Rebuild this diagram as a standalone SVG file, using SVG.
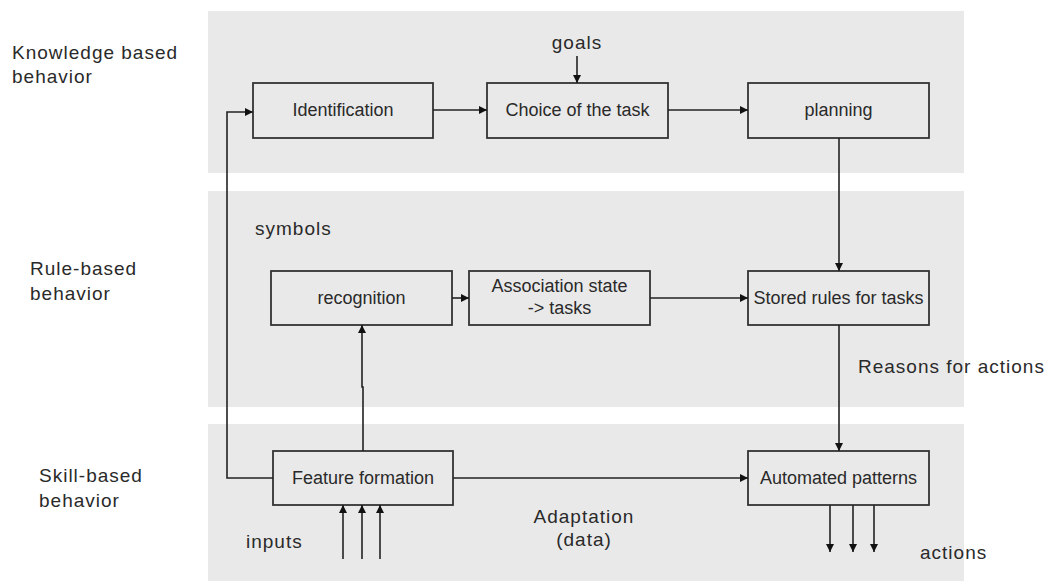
<svg xmlns="http://www.w3.org/2000/svg" width="1045" height="581" viewBox="0 0 1045 581">
  <style>
    .band { fill: #e9e9e9; }
    .box { fill: none; stroke: #333; stroke-width: 1.8; }
    .link { fill: none; stroke: #222; stroke-width: 1.6; }
    .lbl { font-family: "Liberation Sans", Arial, sans-serif; font-size: 19px; letter-spacing: 1px; fill: #2a2a2a; }
    .txt { font-family: "Liberation Sans", Arial, sans-serif; font-size: 18px; fill: #2a2a2a; text-anchor: middle; }
  </style>
  <defs>
    <marker id="arrow" viewBox="0 0 10 10" refX="10" refY="5" markerWidth="5.5" markerHeight="5" orient="auto" markerUnits="strokeWidth">
      <path d="M0,0 L10,5 L0,10 z" fill="#111"/>
    </marker>
  </defs>

  <rect width="1045" height="581" fill="#fff"/>

  <!-- behaviour levels -->
  <g id="levels">
    <rect class="band" x="208" y="11" width="756" height="162"/>
    <rect class="band" x="208" y="191" width="756" height="216"/>
    <rect class="band" x="208" y="424" width="756" height="157"/>
    <text class="lbl" x="12" y="59">Knowledge based</text>
    <text class="lbl" x="12" y="83">behavior</text>
    <text class="lbl" x="30" y="275">Rule-based</text>
    <text class="lbl" x="30" y="300">behavior</text>
    <text class="lbl" x="39" y="482">Skill-based</text>
    <text class="lbl" x="39" y="507">behavior</text>
  </g>

  <!-- free labels -->
  <g id="labels">
    <text class="lbl" x="577" y="49" text-anchor="middle">goals</text>
    <text class="lbl" x="255" y="235">symbols</text>
    <text class="lbl" x="858" y="373">Reasons for actions</text>
    <text class="lbl" x="584" y="523" text-anchor="middle">Adaptation</text>
    <text class="lbl" x="584" y="546" text-anchor="middle">(data)</text>
    <text class="lbl" x="246" y="548">inputs</text>
    <text class="lbl" x="920" y="559">actions</text>
  </g>

  <!-- nodes -->
  <g id="identification">
    <rect class="box" x="253" y="83" width="180" height="55"/>
    <text class="txt" x="343" y="116">Identification</text>
  </g>
  <g id="choice">
    <rect class="box" x="487" y="83" width="181" height="55"/>
    <text class="txt" x="577.5" y="116">Choice of the task</text>
  </g>
  <g id="planning">
    <rect class="box" x="748" y="83" width="181" height="55"/>
    <text class="txt" x="838.5" y="116">planning</text>
  </g>
  <g id="recognition">
    <rect class="box" x="271" y="271" width="181" height="54"/>
    <text class="txt" x="361.5" y="304">recognition</text>
  </g>
  <g id="association">
    <rect class="box" x="469" y="271" width="181" height="54"/>
    <text class="txt" x="559.5" y="292">Association state</text>
    <text class="txt" x="559.5" y="314">-&gt; tasks</text>
  </g>
  <g id="stored-rules">
    <rect class="box" x="748" y="271" width="181" height="54"/>
    <text class="txt" x="838.5" y="304">Stored rules for tasks</text>
  </g>
  <g id="feature-formation">
    <rect class="box" x="273" y="451" width="180" height="54"/>
    <text class="txt" x="363" y="484">Feature formation</text>
  </g>
  <g id="automated-patterns">
    <rect class="box" x="748" y="451" width="181" height="54"/>
    <text class="txt" x="838.5" y="484">Automated patterns</text>
  </g>

  <!-- connectors -->
  <g id="connectors">
    <path class="link" d="M577,56 V83" marker-end="url(#arrow)"/>
    <path class="link" d="M433,110 H487" marker-end="url(#arrow)"/>
    <path class="link" d="M668,110 H748" marker-end="url(#arrow)"/>
    <path class="link" d="M273,478 H227 V112 H253" marker-end="url(#arrow)"/>
    <path class="link" d="M363,451 V387 H362 V325" marker-end="url(#arrow)"/>
    <path class="link" d="M452,298 H469" marker-end="url(#arrow)"/>
    <path class="link" d="M650,298 H748" marker-end="url(#arrow)"/>
    <path class="link" d="M839,138 V271" marker-end="url(#arrow)"/>
    <path class="link" d="M839,325 V451" marker-end="url(#arrow)"/>
    <path class="link" d="M453,478 H748" marker-end="url(#arrow)"/>
    <path class="link" d="M343,559 V505" marker-end="url(#arrow)"/>
    <path class="link" d="M362,559 V505" marker-end="url(#arrow)"/>
    <path class="link" d="M380,559 V505" marker-end="url(#arrow)"/>
    <path class="link" d="M830,505 V552" marker-end="url(#arrow)"/>
    <path class="link" d="M853,505 V552" marker-end="url(#arrow)"/>
    <path class="link" d="M874,505 V552" marker-end="url(#arrow)"/>
  </g>
</svg>
